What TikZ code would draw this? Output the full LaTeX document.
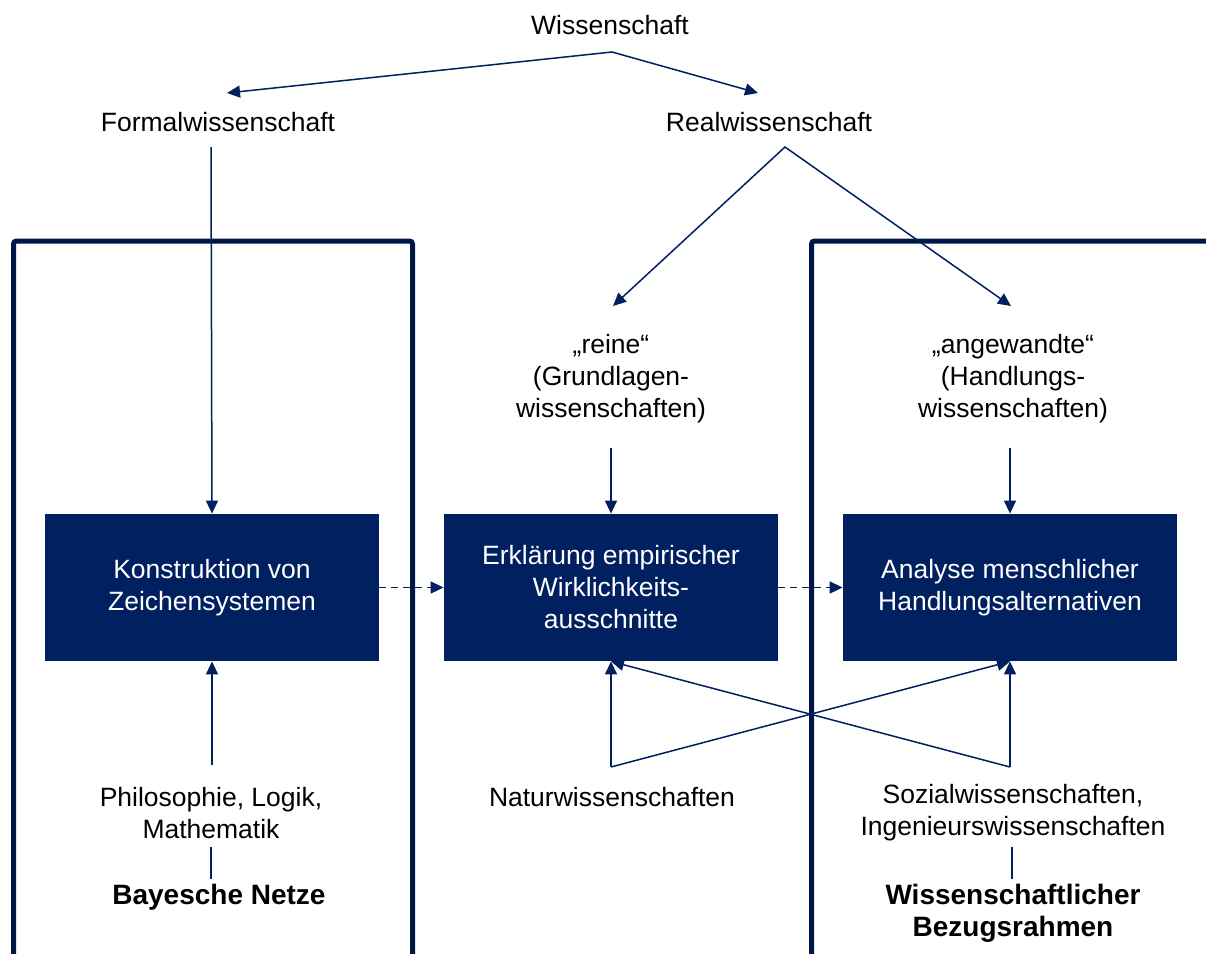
\documentclass[tikz,border=0pt]{standalone}
\usepackage{fontspec}
\setmainfont{Liberation Sans}
\usetikzlibrary{arrows.meta,calc}
\definecolor{navy}{RGB}{0,32,96}
\definecolor{framenavy}{RGB}{0,22,70}
\begin{document}
\begin{tikzpicture}[x=0.5pt,y=-0.5pt,
  lbl/.style={font=\fontsize{13.25}{16}\selectfont, align=center, inner sep=0pt, text=black},
  boldlbl/.style={font=\fontsize{14}{16}\selectfont\bfseries, align=center, inner sep=0pt, text=black},
  box/.style={fill=navy, text=white, minimum width=167pt, minimum height=73.5pt,
    inner sep=0pt, align=center, font=\fontsize{13.25}{16}\selectfont},
  link/.style={draw=navy, line width=0.75pt, -{Triangle[length=6.5pt,width=6pt]}},
  twolink/.style={draw=navy, line width=0.75pt, {Triangle[length=6.5pt,width=6pt]}-{Triangle[length=6.5pt,width=6pt]}},
  plain/.style={draw=navy, line width=0.75pt},
  dashlink/.style={link, line width=0.85pt, dash pattern=on 3.5pt off 2.5pt},
  frame/.style={draw=framenavy, line width=2.5pt, rounded corners=1.5pt}]
\useasboundingbox (0,0) rectangle (1206,954);

% the two framing brackets
\draw[frame] (13.5,954) -- (13.5,241) -- (412.5,241) -- (412.5,954);
\draw[frame] (811.5,954) -- (811.5,241) -- (1206,241);

% top of the hierarchy
\node[lbl] (wiss) at (610,25) {Wissenschaft};
\node[lbl] (formal) at (218,122) {Formalwissenschaft};
\node[lbl] (real) at (769,122) {Realwissenschaft};
\node[lbl] (reine) at (611,379) {„reine“\\(Grundlagen-\\wissenschaften)};
\node[lbl] (angew) at (1013,379) {„angewandte“\\(Handlungs-\\wissenschaften)};

% the three tasks
\node[box] (box1) at (212,587.5) {Konstruktion von\\Zeichensystemen};
\node[box] (box2) at (611,587.5) {Erklärung empirischer\\Wirklichkeits-\\ausschnitte};
\node[box] (box3) at (1010,587.5) {Analyse menschlicher\\Handlungsalternativen};

% disciplines below
\node[lbl] (phil) at (211,813) {Philosophie, Logik,\\Mathematik};
\node[lbl] (natur) at (612,797) {Naturwissenschaften};
\node[lbl] (sozial) at (1013,813) {Sozialwissenschaften,\\Ingenieurswissenschaften};
\node[boldlbl] (bayes) at (219,897) {Bayesche Netze};
\node[boldlbl] (bezug) at (1013,913) {Wissenschaftlicher\\Bezugsrahmen};

% connector end points
\coordinate (wapex) at (612,52);
\coordinate (formaltip) at (227,93);
\coordinate (realtip) at (758,93);
\coordinate (formalout) at (211,147);
\coordinate (rapex) at (785,147);
\coordinate (reinetip) at (613,306);
\coordinate (angewtip) at (1011,306);
\coordinate (reineout) at (611,448);
\coordinate (angewout) at (1010,448);
\coordinate (philout) at (212,765);
\coordinate (naturout) at (611,767);
\coordinate (sozialout) at (1010,767);
\coordinate (phildown) at (211,847);
\coordinate (bayesup) at (211,879);
\coordinate (sozialdown) at (1012,847);
\coordinate (bezugup) at (1012,879);

\draw[twolink] (formaltip) -- (wapex) -- (realtip);
\draw[twolink] (reinetip) -- (rapex) -- (angewtip);
\draw[link] (formalout) -- (box1.north);
\draw[link] (reineout) -- (box2.north);
\draw[link] (angewout) -- (box3.north);

\draw[dashlink] (box1.east) -- (box2.west);
\draw[dashlink] (box2.east) -- (box3.west);

\draw[link] (philout) -- (box1.south);
\draw[link] (naturout) -- (box2.south);
\draw[link] (naturout) -- (box3.south);
\draw[link] (sozialout) -- (box3.south);
\draw[link] (sozialout) -- (box2.south);

\draw[plain] (phildown) -- (bayesup);
\draw[plain] (sozialdown) -- (bezugup);
\end{tikzpicture}
\end{document}
